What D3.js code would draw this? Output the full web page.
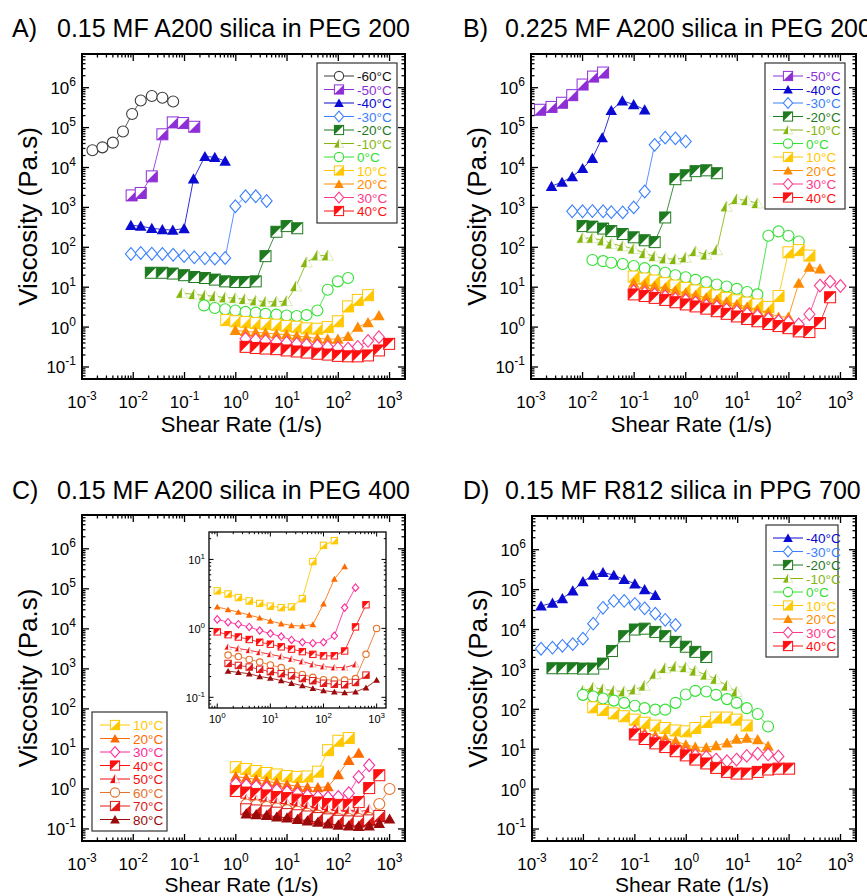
<!DOCTYPE html>
<html>
<head>
<meta charset="utf-8">
<script src="https://cdn.jsdelivr.net/npm/d3@7"></script>
<style>
  body { margin: 0; background: #fff; }
  text { font-family: "Liberation Sans", Arial, sans-serif; fill: #000; }
</style>
</head>
<body>
<div id="chart"></div>
<script>
// ---------------- data ----------------
// Panel A: 0.15 MF A200 silica in PEG 200
const tempsA = ["-60°C", "-50°C", "-40°C", "-30°C", "-20°C", "-10°C", "0°C", "10°C", "20°C", "30°C", "40°C"];
const rateA = [
  [0.0016, 0.0025, 0.004, 0.0063, 0.0095, 0.014, 0.023, 0.037, 0.06],
  [0.0093, 0.014, 0.023, 0.037, 0.059, 0.094, 0.155],
  [0.009, 0.014, 0.023, 0.037, 0.059, 0.098, 0.15, 0.25, 0.39, 0.62],
  [0.009, 0.014, 0.023, 0.037, 0.06, 0.098, 0.155, 0.25, 0.39, 0.62, 0.98, 1.55, 2.45, 4.0],
  [0.022, 0.037, 0.059, 0.098, 0.155, 0.25, 0.39, 0.62, 0.98, 1.5, 2.45, 3.8, 6.2, 9.8, 15.8],
  [0.089, 0.155, 0.25, 0.39, 0.62, 0.98, 1.5, 2.45, 3.8, 6.2, 9.8, 15, 24, 39, 62],
  [0.24, 0.39, 0.62, 0.98, 1.55, 2.45, 3.8, 6.2, 9.8, 15.5, 24, 39, 62, 98, 155],
  [0.65, 0.98, 1.55, 2.45, 3.8, 6.2, 9.8, 15.5, 24, 39, 62, 98, 155, 240, 380],
  [0.98, 1.55, 2.45, 3.8, 6.2, 9.8, 15.5, 24, 39, 62, 98, 155, 240, 380, 620],
  [1.55, 2.45, 3.8, 6.2, 9.8, 15.5, 24, 39, 62, 98, 155, 240, 380, 620],
  [1.55, 2.45, 3.8, 6.2, 9.8, 15.5, 24, 39, 62, 98, 155, 240, 380, 620, 980]
];
const viscA = [
  [2.7e4, 3.2e4, 4.2e4, 8e4, 2.2e5, 4.8e5, 6.2e5, 5.6e5, 4.5e5],
  [2.0e3, 2.3e3, 6e3, 6.8e4, 1.35e5, 1.3e5, 1.05e5],
  [355, 340, 300, 280, 270, 295, 5200, 1.9e4, 1.8e4, 1.45e4],
  [68, 72, 69, 68, 65, 60, 56, 53, 52, 54, 1070, 1900, 1900, 1450],
  [23, 23, 22, 20, 18, 17, 15.5, 14, 13.5, 13.5, 14, 60, 245, 340, 300],
  [7.1, 6.6, 6.2, 5.9, 5.5, 5.3, 5.0, 4.6, 4.3, 4.3, 4.5, 10.5, 42, 62, 62],
  [3.5, 3.0, 2.8, 2.6, 2.4, 2.3, 2.15, 2.05, 1.95, 1.9, 2.0, 2.6, 8.6, 14, 17],
  [1.5, 1.4, 1.33, 1.26, 1.19, 1.15, 1.07, 1.02, 0.93, 0.91, 1.0, 1.4, 3.3, 4.8, 6.3],
  [0.83, 0.78, 0.74, 0.71, 0.67, 0.65, 0.6, 0.56, 0.52, 0.5, 0.5, 0.59, 1.0, 1.3, 1.95],
  [0.51, 0.48, 0.45, 0.43, 0.41, 0.38, 0.36, 0.34, 0.32, 0.30, 0.29, 0.32, 0.45, 0.56],
  [0.32, 0.30, 0.29, 0.28, 0.26, 0.245, 0.23, 0.215, 0.205, 0.19, 0.185, 0.185, 0.195, 0.26, 0.38]
];

// Panel B: 0.225 MF A200 silica in PEG 200
const tempsB = ["-50°C", "-40°C", "-30°C", "-20°C", "-10°C", "0°C", "10°C", "20°C", "30°C", "40°C"];
const rateB = [
  [0.0015, 0.0025, 0.004, 0.0063, 0.01, 0.016, 0.025],
  [0.0025, 0.004, 0.0063, 0.01, 0.0155, 0.024, 0.036, 0.059, 0.098, 0.16],
  [0.0063, 0.01, 0.0155, 0.025, 0.036, 0.06, 0.098, 0.16, 0.25, 0.4, 0.63, 1.0],
  [0.01, 0.0155, 0.025, 0.036, 0.06, 0.098, 0.16, 0.25, 0.4, 0.63, 1.0, 1.55, 2.5, 4.0],
  [0.01, 0.0155, 0.025, 0.036, 0.06, 0.098, 0.16, 0.25, 0.4, 0.63, 1.0, 1.55, 2.5, 4.0, 6.2, 9.8, 15.5, 24.5],
  [0.0155, 0.025, 0.036, 0.06, 0.098, 0.16, 0.25, 0.4, 0.63, 1.0, 1.55, 2.5, 4.0, 6.2, 9.8, 15.5, 24.5, 40, 63, 98, 155],
  [0.098, 0.16, 0.25, 0.4, 0.63, 1.0, 1.55, 2.5, 4.0, 6.2, 9.8, 15.5, 24.5, 40, 63, 98, 155, 250],
  [0.098, 0.16, 0.25, 0.4, 0.63, 1.0, 1.55, 2.5, 4.0, 6.2, 9.8, 15.5, 24.5, 40, 63, 98, 155, 250, 400],
  [0.098, 0.16, 0.25, 0.4, 0.63, 1.0, 1.55, 2.5, 4.0, 6.2, 9.8, 15.5, 24.5, 40, 63, 98, 155, 250, 400, 630, 1000],
  [0.098, 0.16, 0.25, 0.4, 0.63, 1.0, 1.55, 2.5, 4.0, 6.2, 9.8, 15.5, 24.5, 40, 63, 98, 155, 250, 400, 630]
];
const viscB = [
  [2.8e5, 3.3e5, 4.2e5, 6.5e5, 1.2e6, 1.9e6, 2.4e6],
  [3.4e3, 4.3e3, 5.9e3, 9.5e3, 1.7e4, 5.6e4, 2.7e5, 4.7e5, 3.8e5, 2.8e5],
  [800, 800, 810, 800, 760, 750, 1000, 2500, 3.7e4, 5.6e4, 5.4e4, 4.5e4],
  [340, 330, 295, 255, 215, 178, 150, 135, 560, 5100, 6400, 8100, 8500, 7200],
  [170, 170, 148, 123, 107, 91, 71, 59, 52, 50, 55, 79, 65, 85, 1050, 1600, 1500, 1260],
  [48, 45, 41, 38, 34, 30, 26, 23, 20, 17.8, 15.3, 13.4, 11.7, 10.4, 9.1, 7.6, 6.6, 195, 250, 195, 140],
  [18.5, 16.5, 14.7, 12.6, 11, 9.6, 8.3, 7.1, 6.2, 5.4, 4.7, 4.1, 3.7, 3.2, 6, 75, 85, 62],
  [12.6, 11.5, 10.5, 9.5, 8.1, 7.2, 6.3, 5.4, 4.8, 4.3, 3.7, 3.2, 2.7, 2.3, 1.8, 1.8, 12.6, 32, 29],
  [7.9, 7.2, 6.6, 5.9, 5.1, 4.7, 4.1, 3.5, 3.2, 2.75, 2.45, 2.15, 1.9, 1.6, 1.4, 1.33, 1.17, 2.1, 11, 13.8, 10.7],
  [6.6, 6.0, 5.4, 4.8, 4.2, 3.7, 3.3, 2.9, 2.5, 2.15, 1.85, 1.6, 1.4, 1.2, 1.06, 0.94, 0.78, 0.75, 1.26, 5.6]
];

// Panel C: 0.15 MF A200 silica in PEG 400 (same data in main plot and inset)
const tempsC = ["10°C", "20°C", "30°C", "40°C", "50°C", "60°C", "70°C", "80°C"];
const rateC = [
  [1.0, 1.6, 2.5, 4.0, 6.3, 10, 16, 25, 40, 63, 100, 160],
  [1.0, 1.6, 2.5, 4.0, 6.3, 10, 16, 25, 40, 63, 100, 160, 250],
  [1.0, 1.6, 2.5, 4.0, 6.3, 10, 16, 25, 40, 63, 100, 160, 250, 400],
  [1.0, 1.6, 2.5, 4.0, 6.3, 10, 16, 25, 40, 63, 100, 160, 250, 400, 630],
  [1.6, 2.5, 4.0, 6.3, 10, 16, 25, 40, 63, 100, 160, 250, 400],
  [1.6, 2.5, 4.0, 6.3, 10, 16, 25, 40, 63, 100, 160, 250, 400, 630, 1000],
  [1.6, 2.5, 4.0, 6.3, 10, 16, 25, 40, 63, 100, 160, 250, 400, 630],
  [1.6, 2.5, 4.0, 6.3, 10, 16, 25, 40, 63, 100, 160, 250, 400, 630, 1000]
];
const viscC = [
  [3.5, 3.15, 2.8, 2.5, 2.3, 2.1, 2.0, 2.05, 2.7, 9.3, 16, 18.7],
  [2.05, 1.87, 1.72, 1.56, 1.42, 1.28, 1.17, 1.10, 1.08, 1.14, 2.27, 5.2, 7.9],
  [1.35, 1.23, 1.15, 1.05, 0.93, 0.84, 0.76, 0.68, 0.63, 0.61, 0.63, 0.78, 2.0, 3.9],
  [0.89, 0.81, 0.75, 0.69, 0.63, 0.59, 0.54, 0.5, 0.46, 0.42, 0.40, 0.40, 0.47, 1.05, 2.2],
  [0.54, 0.51, 0.48, 0.45, 0.42, 0.39, 0.36, 0.33, 0.30, 0.28, 0.27, 0.27, 0.30],
  [0.41, 0.39, 0.355, 0.325, 0.295, 0.27, 0.24, 0.215, 0.195, 0.18, 0.178, 0.178, 0.187, 0.42, 1.0],
  [0.31, 0.29, 0.275, 0.255, 0.235, 0.22, 0.205, 0.187, 0.174, 0.16, 0.155, 0.152, 0.164, 0.21],
  [0.24, 0.23, 0.22, 0.20, 0.19, 0.175, 0.16, 0.148, 0.135, 0.125, 0.12, 0.117, 0.12, 0.138, 0.178]
];

// Panel D: 0.15 MF R812 silica in PPG 700
const tempsD = ["-40°C", "-30°C", "-20°C", "-10°C", "0°C", "10°C", "20°C", "30°C", "40°C"];
const rateD = [
  [0.0015, 0.0025, 0.0039, 0.0062, 0.0098, 0.0155, 0.024, 0.039, 0.062, 0.1, 0.155, 0.25],
  [0.0015, 0.0025, 0.0039, 0.0062, 0.0098, 0.0155, 0.024, 0.039, 0.062, 0.1, 0.155, 0.25, 0.39, 0.62],
  [0.0025, 0.0039, 0.0062, 0.0098, 0.0155, 0.024, 0.036, 0.062, 0.1, 0.155, 0.25, 0.39, 0.62, 0.98, 1.5, 2.45],
  [0.0098, 0.0155, 0.024, 0.039, 0.062, 0.1, 0.155, 0.25, 0.39, 0.62, 0.98, 1.5, 2.45, 3.8, 6.2, 9.5],
  [0.0098, 0.0155, 0.024, 0.039, 0.062, 0.1, 0.155, 0.25, 0.39, 0.62, 0.98, 1.5, 2.45, 3.8, 6.2, 9.5, 15, 24.5, 39],
  [0.0155, 0.024, 0.039, 0.062, 0.1, 0.155, 0.25, 0.39, 0.62, 0.98, 1.5, 2.45, 3.8, 6.2, 9.5, 15],
  [0.1, 0.155, 0.25, 0.39, 0.62, 0.98, 1.5, 2.45, 3.8, 6.2, 9.5, 15, 24.5, 39],
  [0.1, 0.155, 0.25, 0.39, 0.62, 0.98, 1.5, 2.45, 3.8, 6.2, 9.5, 15, 24.5, 39, 62],
  [0.1, 0.155, 0.25, 0.39, 0.62, 0.98, 1.5, 2.45, 3.8, 6.2, 9.5, 15, 24.5, 39, 62, 100]
];
const viscD = [
  [3.9e4, 4.6e4, 6.0e4, 9.3e4, 1.6e5, 2.3e5, 2.7e5, 2.3e5, 1.8e5, 1.4e5, 1.0e5, 7.2e4],
  [3.3e3, 3.5e3, 3.9e3, 4.3e3, 5.9e3, 1.4e4, 3.5e4, 5.2e4, 5.2e4, 4.4e4, 3.4e4, 2.5e4, 1.75e4, 1.3e4],
  [1070, 1070, 1070, 1050, 1050, 1400, 2900, 6800, 1.0e4, 1.05e4, 8700, 6800, 4900, 3700, 2750, 2050],
  [290, 350, 320, 290, 280, 310, 390, 760, 1070, 1180, 1120, 920, 730, 570, 390, 275],
  [230, 210, 186, 165, 145, 123, 107, 98, 98, 145, 235, 290, 280, 230, 180, 145, 107, 76, 37],
  [112, 96, 79, 67, 55, 46, 39, 34, 29.5, 28, 34, 48, 62, 62, 55, 39],
  [31, 26, 22, 19, 16, 13, 11.3, 11, 12.4, 14.4, 18, 19, 17.4, 12],
  [27, 20, 16, 12.5, 9.8, 8.0, 7.0, 6.4, 5.5, 5.0, 5.5, 6.8, 7.7, 7.4, 6.6],
  [23.5, 18, 14, 11.3, 8.9, 7.0, 5.5, 4.4, 3.4, 2.7, 2.45, 2.45, 2.7, 3.1, 3.25, 3.25]
];

// ---------------- styles ----------------
const styles = {
  "-60°C": { color: "#3c3c3c", text: "#111", shape: "circle" },
  "-50°C": { color: "#8e2fd6", shape: "sqLR" },
  "-40°C": { color: "#0a0ad2", shape: "tri" },
  "-30°C": { color: "#3a80ff", shape: "diamond" },
  "-20°C": { color: "#1e7a1e", shape: "sqUL" },
  "-10°C": { color: "#84b60c", shape: "triHalf" },
  "0°C":   { color: "#33e033", shape: "circle" },
  "10°C":  { color: "#ffc800", shape: "sqLR" },
  "20°C":  { color: "#ff8a00", shape: "tri" },
  "30°C":  { color: "#ff3a8c", shape: "diamond" },
  "40°C":  { color: "#ff1010", shape: "sqUL" },
  "50°C":  { color: "#f01010", shape: "triHalf" },
  "60°C":  { color: "#e8702a", shape: "circle" },
  "70°C":  { color: "#e01818", shape: "sqLR" },
  "80°C":  { color: "#9a0a0a", shape: "tri" }
};
// panel C uses slightly different hues for two series
const stylesC = {
  "20°C": { color: "#ff6a00", shape: "tri" },
  "30°C": { color: "#ff2a9a", shape: "diamond" }
};
let styleOf = t => styles[t];
let styleOfC = t => stylesC[t] || styles[t];

const W = 867, H = 896;
const xDomain = [1e-3, 2e3], yDomain = [0.05, 7e6];

let svg = d3.select("#chart")
    .append("svg")
    .attr("width", W)
    .attr("height", H);

/**
 * Appends a marker shape to every g of the selection (centered at 0,0)
 */
function addMarker(sel, shape, color, h) {
    if (shape === "circle") {
        sel.append("circle").attr("r", h).attr("fill", "#fff")
            .attr("stroke", color).attr("stroke-width", 1.1);
    } else if (shape === "diamond") {
        sel.append("path").attr("d", `M0,${-h * 1.15}L${h},0L0,${h * 1.15}L${-h},0Z`)
            .attr("fill", "#fff").attr("stroke", color).attr("stroke-width", 1.1);
    } else if (shape === "tri") {
        sel.append("path").attr("d", `M0,${-h}L${h * 1.05},${h * 0.85}L${-h * 1.05},${h * 0.85}Z`)
            .attr("fill", color);
    } else if (shape === "triHalf") {
        sel.append("path").attr("d", `M0,${-h}L${h * 1.05},${h * 0.85}L${-h * 1.05},${h * 0.85}Z`)
            .attr("fill", "#fff").attr("stroke", color).attr("stroke-opacity", 0.35).attr("stroke-width", 0.8);
        sel.append("path").attr("d", `M0,${-h}L${-h * 1.05},${h * 0.85}L0,${h * 0.85}Z`)
            .attr("fill", color);
    } else {
        sel.append("rect").attr("x", -h).attr("y", -h).attr("width", 2 * h).attr("height", 2 * h)
            .attr("fill", "#fff").attr("stroke", color).attr("stroke-width", 1);
        let d = shape === "sqUL"
            ? `M${-h},${-h}L${h},${-h}L${-h},${h}Z`
            : `M${h},${-h}L${h},${h}L${-h},${h}Z`;
        sel.append("path").attr("d", d).attr("fill", color);
    }
}

/**
 * Draws the frame with inward log ticks on all four sides
 */
function drawFrame(g, x, y, o) {
    let [x0, x1] = x.range(), [y0, y1] = y.range();
    let isMajor = v => Math.abs(Math.log10(v) - Math.round(Math.log10(v))) < 1e-6;
    let ticks = g.append("g").attr("stroke", "#000").attr("stroke-width", o.tickW);
    x.ticks().forEach(v => {
        let px = x(v), len = isMajor(v) ? o.major : o.minor;
        if (px <= x0 + 0.5 || px >= x1 - 0.5) return;
        ticks.append("line").attr("x1", px).attr("x2", px).attr("y1", y0).attr("y2", y0 - len);
        ticks.append("line").attr("x1", px).attr("x2", px).attr("y1", y1).attr("y2", y1 + len);
    });
    y.ticks().forEach(v => {
        let py = y(v), len = isMajor(v) ? o.major : o.minor;
        if (py >= y0 - 0.5 || py <= y1 + 0.5) return;
        ticks.append("line").attr("y1", py).attr("y2", py).attr("x1", x0).attr("x2", x0 + len);
        ticks.append("line").attr("y1", py).attr("y2", py).attr("x1", x1).attr("x2", x1 - len);
    });
    g.append("rect").attr("x", x0).attr("y", y1).attr("width", x1 - x0).attr("height", y0 - y1)
        .attr("fill", "none").attr("stroke", "#000").attr("stroke-width", o.frameW);

    // "10^n" labels on major ticks
    x.ticks().filter(isMajor).forEach(v => {
        let t = g.append("text").attr("x", x(v)).attr("y", y0 + o.xLabDy)
            .attr("text-anchor", "middle").attr("font-size", o.fs);
        t.append("tspan").text("10");
        t.append("tspan").attr("dy", -o.supRaise).attr("font-size", o.supFs).text(Math.round(Math.log10(v)));
    });
    y.ticks().filter(isMajor).forEach(v => {
        let t = g.append("text").attr("x", x0 - o.yLabDx).attr("y", y(v) + o.fs * 0.38)
            .attr("text-anchor", "end").attr("font-size", o.fs);
        t.append("tspan").text("10");
        t.append("tspan").attr("dy", -o.supRaise).attr("font-size", o.supFs).text(Math.round(Math.log10(v)));
    });
}

/**
 * Draws each series as a thin line plus markers
 */
function drawSeries(g, x, y, temps, rates, viscs, st, h, lw) {
    temps.forEach((t, i) => {
        let s = st(t);
        let pts = rates[i].map((r, j) => [r, viscs[i][j]]);
        g.append("path").datum(pts)
            .attr("d", d3.line().x(d => x(d[0])).y(d => y(d[1])))
            .attr("fill", "none").attr("stroke", s.color)
            .attr("stroke-width", lw).attr("stroke-opacity", 0.85);
        let m = g.selectAll(null).data(pts).join("g")
            .attr("transform", d => `translate(${x(d[0])},${y(d[1])})`);
        addMarker(m, s.shape, s.color, h);
    });
}

/**
 * Boxed legend: line + marker + coloured label per temperature
 */
function drawLegend(box, temps, st) {
    let g = svg.append("g");
    g.append("rect").attr("x", box.x).attr("y", box.y).attr("width", box.w).attr("height", box.h)
        .attr("fill", "#fff").attr("stroke", "#333").attr("stroke-width", 1.2);
    temps.forEach((t, i) => {
        let s = st(t), yy = box.y0 + i * 13.5;
        g.append("line").attr("x1", box.lx).attr("x2", box.lx + 30).attr("y1", yy).attr("y2", yy)
            .attr("stroke", s.color).attr("stroke-width", 1);
        addMarker(g.append("g").attr("transform", `translate(${box.lx + 15},${yy})`), s.shape, s.color, 4.6);
        g.append("text").attr("x", box.lx + 33).attr("y", yy + 5)
            .attr("font-size", 13.5).style("fill", s.text || s.color).text(t);
    });
}

const mainAxis = { tickW: 1.3, frameW: 2, major: 7, minor: 3.5, fs: 17, supFs: 12, supRaise: 8, xLabDy: 29, yLabDx: 6 };

/**
 * One of the four main panels
 */
function drawPanel(p) {
    let g = svg.append("g");
    let x = d3.scaleLog().domain(xDomain).range([p.left, p.right]);
    let y = d3.scaleLog().domain(yDomain).range([p.bottom, p.top]);

    // title
    g.append("text").attr("x", p.tx).attr("y", p.ty).attr("font-size", 25).text(p.letter);
    g.append("text").attr("x", p.tx + p.gap).attr("y", p.ty).attr("font-size", 25).text(p.title);

    drawSeries(g.append("g"), x, y, p.temps, p.rates, p.viscs, p.st, 5.5, 1);
    drawFrame(g, x, y, mainAxis);

    // axis titles
    g.append("text")
        .attr("transform", `translate(${p.left - 45}, ${(p.top + p.bottom) / 2}) rotate(-90)`)
        .attr("text-anchor", "middle").attr("font-size", 26).text("Viscosity (Pa.s)");
    g.append("text").attr("x", (p.left + p.right) / 2 - 2).attr("y", p.bottom + p.xtDy)
        .attr("text-anchor", "middle").attr("font-size", p.xtFs).text("Shear Rate (1/s)");
}

drawPanel({ left: 82, right: 405, top: 54, bottom: 379, tx: 12, ty: 37, gap: 45, xtDy: 53, xtFs: 22,
    letter: "A)", title: "0.15 MF A200 silica in PEG 200",
    temps: tempsA, rates: rateA, viscs: viscA, st: styleOf });
drawPanel({ left: 531, right: 856, top: 54, bottom: 379, tx: 463, ty: 37, gap: 42, xtDy: 53, xtFs: 22,
    letter: "B)", title: "0.225 MF A200 silica in PEG 200",
    temps: tempsB, rates: rateB, viscs: viscB, st: styleOf });
drawPanel({ left: 82, right: 405, top: 515, bottom: 841, tx: 12, ty: 499, gap: 45, xtDy: 51, xtFs: 21,
    letter: "C)", title: "0.15 MF A200 silica in PEG 400",
    temps: tempsC, rates: rateC, viscs: viscC, st: styleOfC });
drawPanel({ left: 532, right: 856, top: 516, bottom: 841, tx: 463, ty: 499, gap: 42, xtDy: 51, xtFs: 21,
    letter: "D)", title: "0.15 MF R812 silica in PPG 700",
    temps: tempsD, rates: rateD, viscs: viscD, st: styleOf });

// inset of panel C (zoom on the same data)
let inset = svg.append("g");
let xIn = d3.scaleLog().domain([0.7, 1500]).range([209, 386]);
let yIn = d3.scaleLog().domain([0.07, 25]).range([708, 532]);
inset.append("rect").attr("x", 209).attr("y", 532).attr("width", 177).attr("height", 176).attr("fill", "#fff");
drawSeries(inset.append("g"), xIn, yIn, tempsC, rateC, viscC, styleOfC, 3.2, 1);
drawFrame(inset, xIn, yIn, { tickW: 1, frameW: 1.3, major: 4.5, minor: 2.2, fs: 11, supFs: 8, supRaise: 5, xLabDy: 15, yLabDx: 4 });

// legends
drawLegend({ x: 317, y: 63, w: 80, h: 160, y0: 76, lx: 324 }, tempsA, styleOf);
drawLegend({ x: 765, y: 63, w: 80, h: 146, y0: 76, lx: 773 }, tempsB, styleOf);
drawLegend({ x: 92, y: 712, w: 75, h: 119, y0: 725, lx: 100 }, tempsC, styleOfC);
drawLegend({ x: 766, y: 525, w: 72, h: 132, y0: 538, lx: 773 }, tempsD, styleOf);
</script>
</body>
</html>
